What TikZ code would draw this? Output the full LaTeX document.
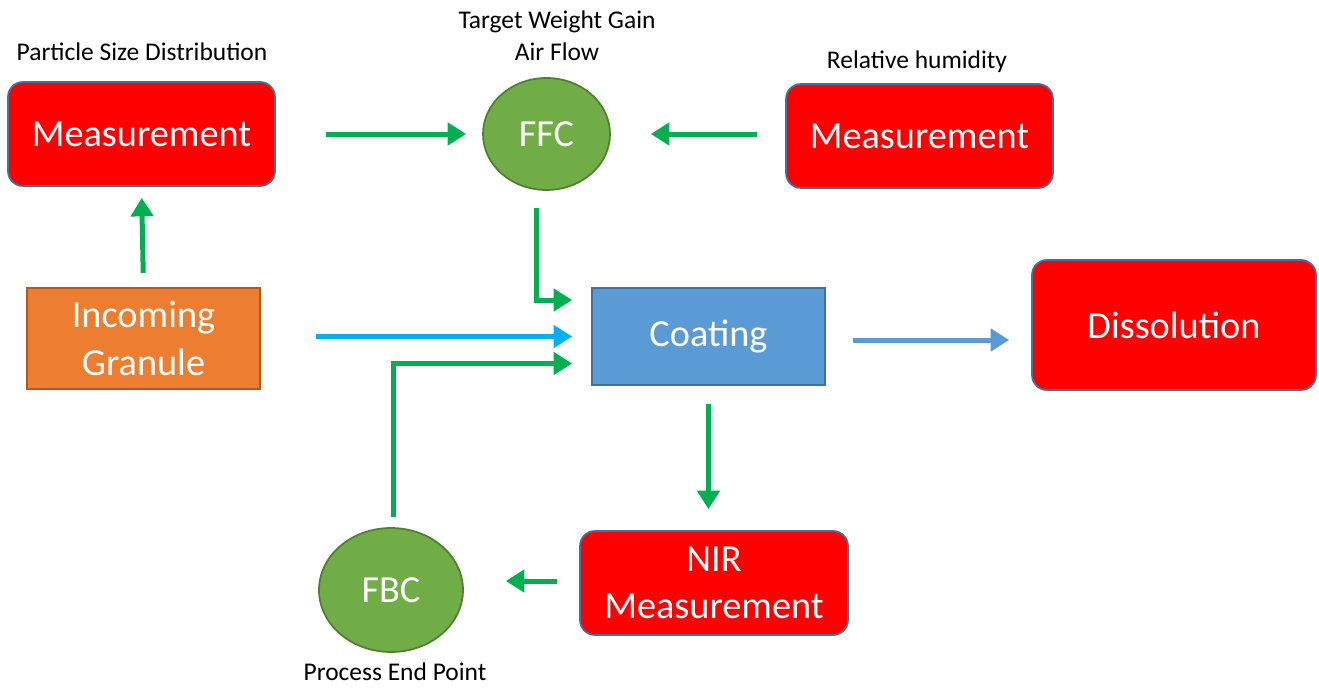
\documentclass[tikz,border=0pt]{standalone}
\usepackage{fontspec}
\setmainfont{Carlito}
\usetikzlibrary{arrows.meta,shapes.geometric}
\definecolor{bred}{HTML}{FF0000}
\definecolor{bedge}{HTML}{41719C}
\definecolor{gfill}{HTML}{70AD47}
\definecolor{gedge}{HTML}{507E32}
\definecolor{ofill}{HTML}{ED7D31}
\definecolor{oedge}{HTML}{AE5A21}
\definecolor{cfill}{HTML}{5B9BD5}
\definecolor{garrow}{HTML}{00B050}
\definecolor{barrow}{HTML}{00B0F0}
\tikzset{
  redbox/.style={draw=bedge, line width=0.035cm, fill=bred, rounded corners=0.3cm, text=white, font=\fontsize{21.8}{25}\selectfont, align=center, inner sep=0pt},
  squarebox/.style={draw=#1, line width=0.035cm, text=white, font=\fontsize{21.8}{25}\selectfont, align=center, inner sep=0pt},
  ctrl/.style={ellipse, draw=gedge, line width=0.035cm, fill=gfill, text=white, font=\fontsize{21.8}{25}\selectfont, inner sep=0pt},
  lbl/.style={font=\fontsize{14.5}{18}\selectfont, align=center, inner sep=0pt},
  flow/.style={line width=0.1cm, -{Triangle[length=0.37cm,width=0.44cm]}, draw=#1},
}
\begin{document}
\begin{tikzpicture}[x=0.02cm,y=-0.02cm]
\useasboundingbox (0,0) rectangle (1319,687);
% nodes
\node[redbox, minimum width=5.34cm, minimum height=2.08cm] (m1) at (141.5,134) {\raisebox{-1.5pt}{Measurement}};
\node[redbox, minimum width=5.34cm, minimum height=2.08cm] (m2) at (919.5,136) {\raisebox{-1.5pt}{Measurement}};
\node[ctrl, minimum width=2.54cm, minimum height=2.24cm] (ffc) at (546.5,134) {FFC};
\node[squarebox=oedge, fill=ofill, minimum width=4.66cm, minimum height=2.02cm] (gran) at (143.5,338.5) {Incoming\\[2pt]Granule};
\node[squarebox=bedge, fill=cfill, minimum width=4.66cm, minimum height=1.94cm] (coat) at (708.5,336.5) {\raisebox{-2pt}{Coating}};
\node[redbox, minimum width=5.68cm, minimum height=2.6cm] (dis) at (1174,325) {Dissolution};
\node[redbox, minimum width=5.36cm, minimum height=2.08cm] (nir) at (714,583) {NIR\\[2pt]Measurement};
\node[ctrl, minimum width=2.88cm, minimum height=2.48cm] (fbc) at (391,590) {FBC};
% labels
\node[lbl] (lpsd) at (142,52) {Particle Size Distribution};
\node[lbl] (ltwg) at (557,36) {Target Weight Gain\\Air Flow};
\node[lbl] (lrh) at (917,62) {Relative humidity};
\node[lbl] (lpep) at (395,672) {Process End Point};
% connectors
\draw[flow=garrow, shorten <=1cm, shorten >=0.32cm] (m1.east |- ffc.west) -- (ffc.west);
\draw[flow=garrow, shorten <=0.56cm, shorten >=0.8cm] (m2.west |- ffc.east) -- (ffc.east);
\draw[flow=garrow, shorten <=0.28cm, shorten >=0.22cm] (gran.north) -- (m1.south);
\draw[flow=garrow, shorten <=0.34cm, shorten >=0.38cm] ([xshift=-0.2cm]ffc.south) |- ([yshift=0.73cm]coat.west);
\draw[flow=barrow, shorten <=1.1cm, shorten >=0.38cm] (gran.east |- coat.west) -- (coat.west);
\draw[flow=garrow, shorten <=0.2cm, shorten >=0.38cm] ([xshift=0.04cm]fbc.north) |- ([yshift=-0.54cm]coat.west);
\draw[flow=garrow, shorten <=0.36cm, shorten >=0.42cm] (coat.south) -- (coat.south |- nir.north);
\draw[flow=garrow, shorten <=0.44cm, shorten >=0.84cm] ([yshift=0.04cm]nir.west) -- ([yshift=0.04cm]nir.west -| fbc.east);
\draw[flow=cfill, shorten <=0.54cm, shorten >=0.44cm] ([yshift=-0.07cm]coat.east) -- ([yshift=-0.07cm]coat.east -| dis.west);
\end{tikzpicture}
\end{document}
